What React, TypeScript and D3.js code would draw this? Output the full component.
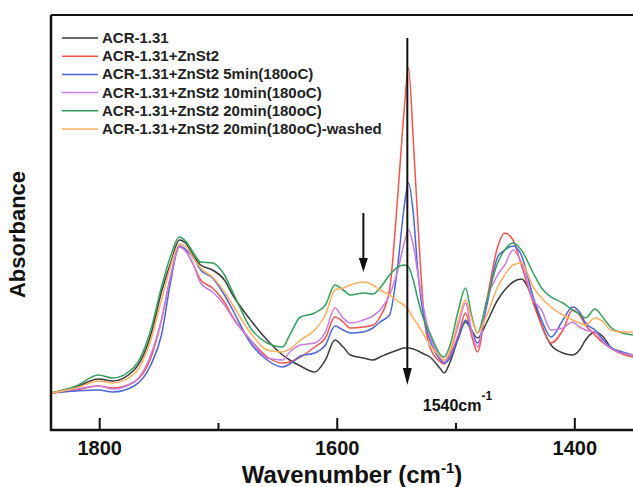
import React from "react";
import * as d3 from "d3";

const wavenumbers = [1841,1820,1801,1789,1771,1757,1748,1740,1733,1727,1721,1715,1705,1695,1688,1673,1659,1646,1640,1631,1619,1610,1602,1595,1589,1578,1570,1564,1556,1549,1544,1540,1536,1532,1527,1522,1513,1510,1505,1498,1492,1487,1482,1474,1465,1459,1452,1445,1435,1428,1420,1410,1402,1396,1391,1383,1376,1370,1360,1351];

const acr = [0.37,0.43,0.51,0.49,0.60,0.95,1.38,1.68,1.90,1.86,1.74,1.65,1.60,1.50,1.35,1.10,0.90,0.75,0.70,0.64,0.58,0.70,0.90,0.83,0.75,0.72,0.70,0.73,0.77,0.80,0.82,0.82,0.81,0.79,0.76,0.73,0.61,0.57,0.68,0.92,1.08,1.00,0.92,1.08,1.30,1.40,1.48,1.51,1.30,1.05,0.85,0.77,0.75,0.80,0.90,0.98,0.93,0.83,0.77,0.75];
const acrZn = [0.37,0.40,0.44,0.42,0.48,0.72,1.10,1.55,1.83,1.78,1.65,1.50,1.42,1.28,1.13,0.90,0.73,0.67,0.68,0.73,0.83,0.92,1.13,1.08,1.02,1.03,1.05,1.13,1.40,2.35,3.15,3.62,2.90,2.05,1.15,0.83,0.68,0.66,0.75,0.95,1.17,0.95,0.78,1.30,1.83,1.97,1.90,1.65,1.27,1.05,0.87,1.00,1.20,1.15,1.05,0.95,0.87,0.82,0.76,0.73];
const acrZn5 = [0.37,0.39,0.40,0.38,0.44,0.65,0.95,1.50,1.84,1.80,1.72,1.60,1.52,1.35,1.20,0.87,0.70,0.63,0.66,0.74,0.77,0.85,1.04,1.00,0.97,0.98,1.02,1.08,1.15,1.65,2.20,2.47,2.17,1.57,1.12,0.90,0.70,0.67,0.72,0.92,1.10,1.00,0.87,1.25,1.73,1.80,1.84,1.75,1.33,1.10,0.93,1.10,1.23,1.18,1.07,1.00,0.90,0.83,0.78,0.75];
const acrZn10 = [0.37,0.41,0.44,0.41,0.48,0.75,1.10,1.55,1.83,1.78,1.65,1.47,1.38,1.25,1.12,0.90,0.72,0.70,0.78,0.85,0.87,0.98,1.22,1.12,1.07,1.10,1.14,1.20,1.35,1.60,1.85,2.00,1.85,1.55,1.20,0.95,0.72,0.68,0.78,1.05,1.27,1.00,0.83,1.30,1.55,1.65,1.80,1.68,1.30,1.20,1.00,1.02,1.08,1.03,1.00,0.98,0.88,0.82,0.77,0.75];
const acrZn20 = [0.37,0.44,0.55,0.52,0.63,1.00,1.43,1.75,1.93,1.88,1.77,1.68,1.67,1.55,1.38,1.02,0.87,0.83,0.95,1.13,1.17,1.25,1.45,1.40,1.35,1.37,1.36,1.42,1.55,1.63,1.65,1.63,1.50,1.30,1.10,0.97,0.75,0.73,0.85,1.20,1.42,1.15,0.97,1.30,1.67,1.80,1.87,1.80,1.57,1.42,1.33,1.27,1.20,1.16,1.12,1.21,1.12,1.03,0.97,0.95];
const acrZn20w = [0.37,0.42,0.49,0.47,0.56,0.90,1.30,1.65,1.86,1.83,1.72,1.62,1.53,1.38,1.25,0.97,0.80,0.78,0.81,0.90,1.00,1.15,1.40,1.42,1.45,1.48,1.45,1.40,1.35,1.29,1.25,1.20,1.12,1.05,0.95,0.85,0.73,0.70,0.80,1.10,1.30,1.12,0.97,1.15,1.43,1.55,1.65,1.67,1.43,1.32,1.23,1.15,1.10,1.07,1.05,1.12,1.08,1.00,0.98,0.98];

const seriesNames = [
  "ACR-1.31",
  "ACR-1.31+ZnSt2",
  "ACR-1.31+ZnSt2 5min(180oC)",
  "ACR-1.31+ZnSt2 10min(180oC)",
  "ACR-1.31+ZnSt2 20min(180oC)",
  "ACR-1.31+ZnSt2 20min(180oC)-washed",
];
const seriesValues = [acr, acrZn, acrZn5, acrZn10, acrZn20, acrZn20w];
const seriesColors = ["#3c3c3c", "#f2554d", "#4a66d6", "#c97ddf", "#35a05e", "#ffae5c"];

const xTicks = [1800, 1700, 1600, 1500, 1400];
const xTickLabels = ["1800", "", "1600", "", "1400"];

const W = 633, H = 487;
const left = 51, right = 633, top = 15, bottom = 430;
const FONT = "'Liberation Sans', Arial, Helvetica, sans-serif";

export default function App() {
  const x = d3.scaleLinear().domain([1841, 1351]).range([left, right]);
  const y = d3.scaleLinear().domain([0, 4.15]).range([bottom, top]);
  const line = d3
    .line<[number, number]>()
    .x((d) => x(d[0]))
    .y((d) => y(d[1]))
    .curve(d3.curveMonotoneX);

  return (
    <svg width={W} height={H} style={{ position: "absolute", left: 0, top: 0, background: "#fff" }} fontFamily={FONT}>
      <defs>
        <clipPath id="plot">
          <rect x={left} y={top} width={right - left} height={bottom - top} />
        </clipPath>
      </defs>
      <g clipPath="url(#plot)">
        {seriesValues.map((vals, i) => (
          <path
            key={i}
            d={line(wavenumbers.map((w, j) => [w, vals[j]] as [number, number])) || ""}
            fill="none"
            stroke={seriesColors[i]}
            strokeWidth={1.5}
            strokeLinejoin="round"
          />
        ))}
      </g>
      {/* frame */}
      <line x1={left} x2={W} y1={top} y2={top} stroke="#111" strokeWidth={2} />
      <line x1={left} x2={left} y1={top} y2={bottom + 1} stroke="#111" strokeWidth={2.5} />
      <line x1={left - 1} x2={W} y1={bottom} y2={bottom} stroke="#111" strokeWidth={2.5} />
      {xTicks.map((t, i) => (
        <g key={t}>
          <line x1={x(t)} x2={x(t)} y1={bottom} y2={bottom - (xTickLabels[i] ? 12 : 7)} stroke="#111" strokeWidth={2} />
          {xTickLabels[i] && (
            <text x={x(t)} y={bottom + 25} textAnchor="middle" fontSize={20} fontWeight="bold" fill="#111">
              {xTickLabels[i]}
            </text>
          )}
        </g>
      ))}
      <text x={352} y={bottom + 53} textAnchor="middle" fontSize={24} fontWeight="bold" fill="#111">
        Wavenumber (cm
        <tspan fontSize={15} dy={-10}>-1</tspan>
        <tspan dy={10}>)</tspan>
      </text>
      <text
        transform={`translate(${left - 26},${(top + bottom) / 2 + 12}) rotate(-90)`}
        textAnchor="middle"
        fontSize={22}
        fontWeight="bold"
        fill="#111"
      >
        Absorbance
      </text>
      {/* legend */}
      {seriesNames.map((n, i) => {
        const ly = 38 + i * 18.2;
        return (
          <g key={n}>
            <line x1={62} x2={98} y1={ly} y2={ly} stroke={seriesColors[i]} strokeWidth={1.5} />
            <text x={102} y={ly + 5} fontSize={15} fontWeight="bold" fill="#222">
              {n}
            </text>
          </g>
        );
      })}
      {/* arrows */}
      <line x1={x(1541)} x2={x(1541)} y1={y(3.92)} y2={y(0.6)} stroke="#111" strokeWidth={2} />
      <path
        d={`M${x(1541) - 4.5},${y(0.6) - 2} L${x(1541) + 4.5},${y(0.6) - 2} L${x(1541)},${y(0.45)} Z`}
        fill="#111"
      />
      <line x1={x(1578)} x2={x(1578)} y1={y(2.17)} y2={y(1.7)} stroke="#111" strokeWidth={2} />
      <path
        d={`M${x(1578) - 4.5},${y(1.7) - 2} L${x(1578) + 4.5},${y(1.7) - 2} L${x(1578)},${y(1.58)} Z`}
        fill="#111"
      />
      <text x={x(1528)} y={y(0.19)} fontSize={16} fontWeight="bold" fill="#111">
        1540cm
        <tspan fontSize={12} dy={-11}>-1</tspan>
      </text>
    </svg>
  );
}
